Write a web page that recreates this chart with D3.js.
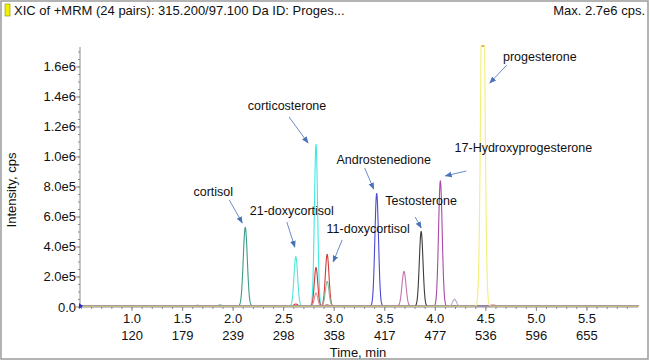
<!DOCTYPE html>
<html>
<head>
<meta charset="utf-8">
<script src="https://cdn.jsdelivr.net/npm/d3@7"></script>
<style>
  html, body { margin: 0; padding: 0; background: #fff; }
  svg { display: block; font-family: Arial, "Liberation Sans", sans-serif; }
</style>
</head>
<body>
<svg id="chart" width="650" height="363"></svg>
<script>
// ---------------- DATA ----------------
const titleText = "XIC of +MRM (24 pairs): 315.200/97.100 Da ID: Proges...";
const maxText = "Max. 2.7e6 cps.";

const xTicks = [1.0, 1.5, 2.0, 2.5, 3.0, 3.5, 4.0, 4.5, 5.0, 5.5];
const scanLabels = ["120", "179", "239", "298", "358", "417", "477", "536", "596", "655"];
const yTicks = [0, 2e5, 4e5, 6e5, 8e5, 1.0e6, 1.2e6, 1.4e6, 1.6e6];

// each trace: list of peaks [retention time (min), height (cps), width sigma (min)]
const traceNames = ["cortisol", "21-doxycortisol", "corticosterone", "11-doxycortisol", "minor-red",
                    "minor-green", "Androstenedione", "minor-mauve", "Testosterone",
                    "17-Hydroxyprogesterone", "minor-grey", "progesterone"];
const cortisolPeaks        = [[2.12, 5.27e5, 0.020], [1.65, 8e3, 0.02], [1.87, 9e3, 0.02]];
const doxycortisol21Peaks  = [[2.62, 3.33e5, 0.018]];
const corticosteronePeaks  = [[2.82, 1.08e6, 0.016]];
const doxycortisol11Peaks  = [[2.93, 3.47e5, 0.018], [2.82, 2.6e5, 0.017], [2.62, 1.6e4, 0.02]];
const minorRedPeaks        = [[2.82, 9.0e4, 0.017], [2.93, 1.2e4, 0.02], [4.57, 1.0e4, 0.03]];
const minorGreenPeaks      = [[2.93, 1.67e5, 0.018], [5.62, 6e3, 0.03]];
const androstenedionePeaks = [[3.42, 7.53e5, 0.018]];
const minorMauvePeaks      = [[3.69, 2.33e5, 0.020]];
const testosteronePeaks    = [[3.86, 5.0e5, 0.018]];
const ohp17Peaks           = [[4.05, 8.27e5, 0.018], [4.05, 1.0e4, 0.02]];
const minorGreyPeaks       = [[4.19, 4.7e4, 0.020]];
const progesteronePeaks    = [[4.47, 2.7e6, 0.019]];
const baselineLevel = 4000;

// annotation labels: name, trace index
const annotNames = ["cortisol", "21-doxycortisol", "corticosterone", "11-doxycortisol",
                    "Androstenedione", "Testosterone", "17-Hydroxyprogesterone", "progesterone"];
const annotTrace = [0, 1, 2, 3, 6, 8, 9, 11];

// ---------------- STYLE / LAYOUT ----------------
const traceColors = ["#3e9c8a", "#52e6d6", "#3fe9e2", "#d33c3c", "#e58c8c",
                     "#86b89c", "#4a4ad2", "#c273b2", "#3c3c3c",
                     "#a84aa8", "#b8a6c2", "#f3ef78"];
// label layout offsets relative to peak apex (pixels): [textX, textY, tailX, tailY, headX, headY]
const annotLayout = [
  [-32, -32, -16, -28, -3, -5],
  [-4, -42, -9, -35, -1, -10],
  [-29, -35, -27, -28, -8, -2],
  [41, -22, 15, -15, 6, 7],
  [7, -30, -12, -26, -3, -5],
  [0, -27, -6, -15, 0, -4],
  [83, -31, 26, -12, 5, -7],
  [57, 16, 24, 20, 7, 38]
];

const svg = d3.select("#chart");

const x = d3.scaleLinear().domain([0.485, 6.015]).range([80, 639]);
const y = d3.scaleLinear().domain([0, 1.7333e6]).range([307, 47]);

// frame
svg.append("rect").attr("x", 1).attr("y", 1).attr("width", 647).attr("height", 358)
  .attr("fill", "none").attr("stroke", "#9a9a9a").attr("stroke-width", 1.5);

// title
svg.append("rect").attr("x", 5).attr("y", 4).attr("width", 5).attr("height", 12)
  .attr("fill", "#f2f000").attr("stroke", "#8a8a00").attr("stroke-width", 0.6);
svg.append("text").attr("x", 14).attr("y", 15).attr("font-size", 13).attr("fill", "#111")
  .text(titleText);
svg.append("text").attr("x", 645).attr("y", 15).attr("font-size", 13).attr("fill", "#111")
  .attr("text-anchor", "end").text(maxText);

// traces
const allPeaks = [cortisolPeaks, doxycortisol21Peaks, corticosteronePeaks, doxycortisol11Peaks,
  minorRedPeaks, minorGreenPeaks, androstenedionePeaks, minorMauvePeaks, testosteronePeaks,
  ohp17Peaks, minorGreyPeaks, progesteronePeaks];

const t0 = x.domain()[0], t1 = x.domain()[1];
const times = d3.range(t0, t1, 0.0025);
function traceValue(peaks, t) {
  let v = baselineLevel;
  peaks.forEach(([rt, h, s]) => { v += h * Math.exp(-0.5 * ((t - rt) / s) ** 2); });
  return v;
}

svg.append("clipPath").attr("id", "plotclip").append("rect")
  .attr("x", 80).attr("y", 45).attr("width", 560).attr("height", 265);

const line = d3.line().x(d => x(d[0])).y(d => y(d[1]));
const plot = svg.append("g").attr("clip-path", "url(#plotclip)");

// axes
const axisColor = "#8c8c8c";
svg.append("line").attr("x1", 80).attr("x2", 80).attr("y1", 47).attr("y2", 307)
  .attr("stroke", axisColor).attr("stroke-width", 1);
svg.append("line").attr("x1", 80).attr("x2", 638).attr("y1", 307).attr("y2", 307)
  .attr("stroke", axisColor).attr("stroke-width", 1);

// y ticks
const yMinor = d3.range(0, 1.73e6, 5e4);
svg.append("g").selectAll("line").data(yMinor).join("line")
  .attr("x1", 78).attr("x2", 80).attr("y1", d => y(d)).attr("y2", d => y(d))
  .attr("stroke", axisColor);
svg.append("g").selectAll("line").data(yTicks).join("line")
  .attr("x1", 76).attr("x2", 80).attr("y1", d => y(d)).attr("y2", d => y(d))
  .attr("stroke", axisColor);
const fmtY = d => d === 0 ? "0.0" : d3.format(".1e")(d).replace("e+", "e");
svg.append("g").selectAll("text").data(yTicks).join("text")
  .attr("x", 76).attr("y", d => y(d) + 4.5).attr("text-anchor", "end")
  .attr("font-size", 13).attr("fill", "#111").text(fmtY);

// x ticks
const xMinor = d3.range(0.5, 6.0, 0.1);
svg.append("g").selectAll("line").data(xMinor).join("line")
  .attr("x1", d => x(d)).attr("x2", d => x(d)).attr("y1", 307).attr("y2", 309)
  .attr("stroke", axisColor);
svg.append("g").selectAll("line").data(xTicks).join("line")
  .attr("x1", d => x(d)).attr("x2", d => x(d)).attr("y1", 307).attr("y2", 311)
  .attr("stroke", axisColor);
svg.append("g").selectAll("text").data(xTicks).join("text")
  .attr("x", d => x(d)).attr("y", 323).attr("text-anchor", "middle")
  .attr("font-size", 13).attr("fill", "#111").text(d => d.toFixed(1));
svg.append("g").selectAll("text").data(xTicks).join("text")
  .attr("x", d => x(d)).attr("y", 339.5).attr("text-anchor", "middle")
  .attr("font-size", 13).attr("fill", "#111").text((d, i) => scanLabels[i]);

svg.append("text").attr("x", 358).attr("y", 356.5).attr("text-anchor", "middle")
  .attr("font-size", 13).attr("fill", "#111").text("Time, min");
svg.append("text").attr("transform", "translate(16,190) rotate(-90)")
  .attr("text-anchor", "middle").attr("font-size", 13).attr("fill", "#111")
  .text("Intensity, cps");

// draw traces
allPeaks.forEach((peaks, i) => {
  const pts = times.map(t => [t, traceValue(peaks, t)]);
  plot.append("path").attr("d", line(pts)).attr("fill", "none")
    .attr("stroke", traceColors[i]).attr("stroke-width", 1.1).attr("stroke-linejoin", "round");
});

// apex marker on clipped progesterone peak
svg.append("rect").attr("x", x(progesteronePeaks[0][0]) - 1).attr("y", 45).attr("width", 2).attr("height", 2)
  .attr("fill", "#d8a070");

// origin marker
svg.append("path").attr("d", "M79,303 L83,306 L79,309 Z").attr("fill", "#2a2ad0");

// annotations
const defs = svg.append("defs");
defs.append("marker").attr("id", "arr").attr("viewBox", "0 0 10 10").attr("refX", 9).attr("refY", 5)
  .attr("markerWidth", 7).attr("markerHeight", 7).attr("orient", "auto")
  .append("path").attr("d", "M0,1 L10,5 L0,9 Z").attr("fill", "#4a72b8");

annotNames.forEach((name, i) => {
  const peak = allPeaks[annotTrace[i]][0];
  const ax = x(peak[0]);
  const ay = Math.max(y(peak[1]), y.range()[1] - 2);
  const [tx, ty, sx, sy, hx, hy] = annotLayout[i];
  svg.append("line").attr("x1", ax + sx).attr("y1", ay + sy).attr("x2", ax + hx).attr("y2", ay + hy)
    .attr("stroke", "#6a8cc8").attr("stroke-width", 1).attr("marker-end", "url(#arr)");
  svg.append("text").attr("x", ax + tx).attr("y", ay + ty).attr("text-anchor", "middle")
    .attr("font-size", 12.5).attr("fill", "#111").text(name);
});
</script>
</body>
</html>
